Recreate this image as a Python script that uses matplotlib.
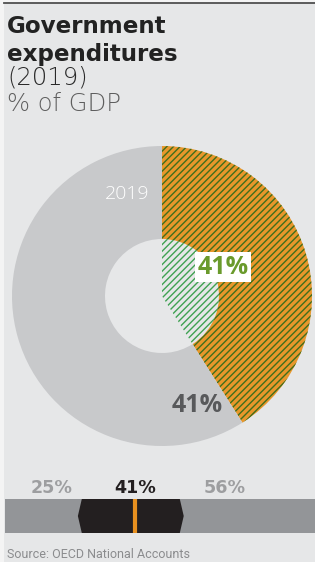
import matplotlib
matplotlib.use("Agg")
import matplotlib.pyplot as plt
from matplotlib.patches import Rectangle, Polygon
from matplotlib.lines import Line2D

# data
year = "2019"
share = 41            # government expenditures, % of GDP
rest = 100 - share
oecd_min = 25
oecd_max = 56
mid_range = [31.5, 49]   # dark band on the scale bar
title_lines = ["Government", "expenditures"]
subtitle = "(2019)"
unit = "% of GDP"
source = "Source: OECD National Accounts"

W, H = 315, 562
BG = "#e6e7e8"
ORANGE = "#e8972b"
GREEN_DARK = "#3f6e1c"
GREEN = "#3fa152"
GREEN_TXT = "#6a9a2c"
GRAY_RING = "#c8c9cb"

plt.rcParams["hatch.linewidth"] = 1.0
plt.rcParams["font.family"] = ["Open Sans", "DejaVu Sans"]

fig = plt.figure(figsize=(W / 100, H / 100), dpi=100, facecolor="#f4f4f4")

# panel background + top rule
fig.patches.append(Rectangle((4 / W, 0), 1, (H - 3) / H, transform=fig.transFigure,
                             facecolor=BG, edgecolor="none", zorder=-5))
fig.lines.append(Line2D([4 / W, 1], [(H - 2.5) / H] * 2, transform=fig.transFigure,
                        color="#505050", lw=1.3))


def px(x, y):
    """pixel coords (top-left origin) -> figure fraction"""
    return x / W, 1 - y / H


# titles
for i, t in enumerate(title_lines):
    fig.text(*px(7, 33 + 28 * i), t, fontsize=16.6, fontweight="bold",
             family="DejaVu Sans", color="#222222", va="baseline", ha="left")
fig.text(*px(7, 84), subtitle, fontsize=17.5, fontweight=200, family="DejaVu Sans",
         color="#2a2a2a", va="baseline", ha="left")
fig.text(*px(7, 111), unit, fontsize=17.5, fontweight=200, family="DejaVu Sans",
         color="#5e5e5e", va="baseline", ha="left")

# donut
cx, cy, R, r_in = 162, 296, 150, 57
ax = fig.add_axes([(cx - R) / W, (H - cy - R) / H, 2 * R / W, 2 * R / H])
outer, _ = ax.pie([share, rest], startangle=90, counterclock=False, radius=1,
                  colors=[ORANGE, GRAY_RING],
                  wedgeprops=dict(width=1 - r_in / R, linewidth=0))
outer[0].set_edgecolor(GREEN_DARK)
outer[0].set_hatch("/////")
inner, _ = ax.pie([share, rest], startangle=90, counterclock=False, radius=r_in / R,
                  colors=["none", "none"], wedgeprops=dict(linewidth=0))
inner[0].set_edgecolor(GREEN)
inner[0].set_hatch("/////")
ax.set_xlim(-1, 1)
ax.set_ylim(-1, 1)
ax.set_axis_off()

fig.text(*px(127, 194), year, fontsize=14, fontweight="light", color="white",
         ha="center", va="center")
fig.text(*px(223, 267), f"{share}%", fontsize=18, fontweight="bold", color=GREEN_TXT,
         ha="center", va="center",
         bbox=dict(boxstyle="square,pad=0.1", facecolor="white", edgecolor="none"))
fig.text(*px(197, 406), f"{share}%", fontsize=18, fontweight="bold", color="#58595b",
         ha="center", va="center")

# scale bar
b = 5.6
a = 135 - share * b
x0, x1 = 5, W
bx = fig.add_axes([x0 / W, (H - 533) / H, (x1 - x0) / W, 34 / H])
bx.set_xlim((x0 - a) / b, (x1 - a) / b)
bx.set_ylim(0, 1)
bx.set_facecolor("#939598")
lo, hi = mid_range
tip = 0.7
bx.add_patch(Polygon([(lo - tip, 0.5), (lo, 1), (hi, 1), (hi + tip, 0.5), (hi, 0), (lo, 0)],
                     closed=True, facecolor="#231f20", edgecolor="none"))
bx.axvline(share, color="#e8901f", lw=3)
for s in bx.spines.values():
    s.set_visible(False)
bx.set_xticks([])
bx.set_yticks([])

for v, col, dx in [(oecd_min, "#9d9ea0", 4.3), (share, "#231f20", 0), (oecd_max, "#9d9ea0", 4.3)]:
    bx.annotate(f"{v}%", xy=(v, 1), xytext=(dx, 8), textcoords="offset points",
                fontsize=12.6, fontweight="bold", family="DejaVu Sans", color=col,
                ha="center", va="center", annotation_clip=False)

fig.text(*px(7, 558), source, fontsize=9, family=["Roboto", "DejaVu Sans"],
         color="#8b8c8e", ha="left", va="baseline")

fig.savefig("out.png", dpi=100, facecolor=fig.get_facecolor())
